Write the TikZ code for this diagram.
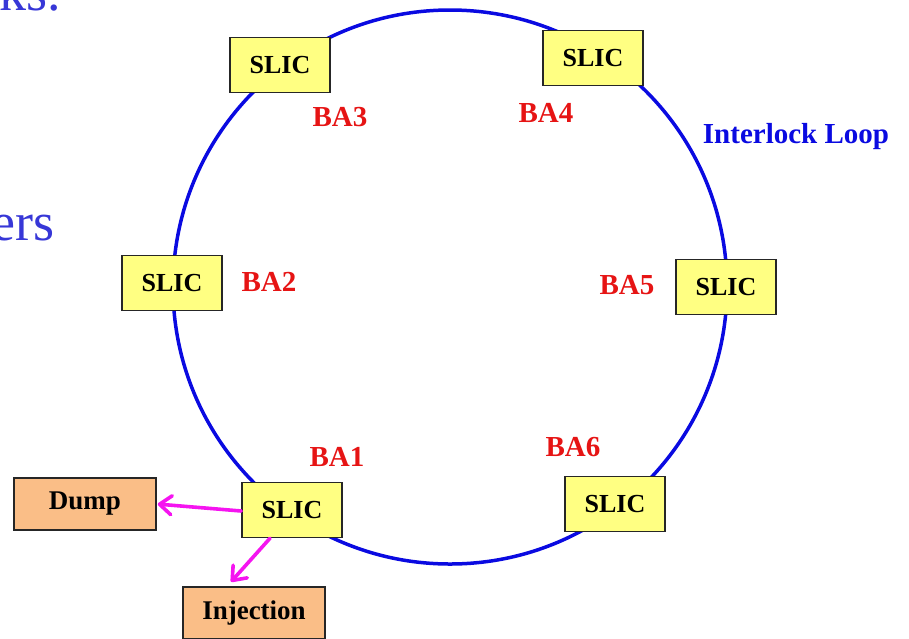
\documentclass[tikz,border=0pt]{standalone}
\usepackage{fontspec}
\setmainfont{Liberation Serif}
\usetikzlibrary{arrows.meta}
\definecolor{loopblue}{RGB}{10,10,225}
\definecolor{textblue}{RGB}{55,55,215}
\definecolor{slicfill}{RGB}{255,255,130}
\definecolor{outfill}{RGB}{250,190,135}
\definecolor{labred}{RGB}{230,20,20}
\definecolor{linkmag}{RGB}{245,20,240}
\tikzset{
  slic/.style={draw=black!85, line width=1.5pt, fill=slicfill, minimum width=100pt,
    minimum height=55pt, font=\fontsize{26}{28}\selectfont\bfseries, inner sep=0pt},
  outbox/.style={draw=black!85, line width=1.5pt, fill=outfill, minimum width=142pt,
    minimum height=52pt, font=\fontsize{27}{29}\selectfont\bfseries, inner sep=0pt},
  balabel/.style={text=labred, font=\fontsize{29}{31}\selectfont\bfseries, inner sep=0pt},
  slidetext/.style={anchor=base east, text=textblue, font=\fontsize{54}{58}\selectfont, inner sep=0pt},
  link/.style={draw=linkmag, line width=3.6pt, line cap=round,
    -{Straight Barb[length=12pt,width=19pt,line width=3.6pt,round]}},
}
\begin{document}
\begin{tikzpicture}[x=1pt,y=-1pt]
\useasboundingbox (0,0) rectangle (909,638);
% fragments of the surrounding slide text
\begin{scope}
\clip (0,0) rectangle (909,638);
\node[slidetext] (tcks) at (61,10) {cks.};
\node[slidetext] (ters) at (55,240) {ers};
\end{scope}
% interlock loop
\draw[loopblue, line width=3.5pt] (450,287) circle (277);
% SLIC boxes
\node[slic] (s3) at (280,65) {SLIC};
\node[slic] (s4) at (593,58) {SLIC};
\node[slic] (s2) at (172,283) {SLIC};
\node[slic] (s5) at (726,287) {SLIC};
\node[slic] (s1) at (292,510) {SLIC};
\node[slic] (s6) at (615,504) {SLIC};
% outputs
\node[outbox] (dump) at (85,504) {Dump};
\node[outbox] (inj) at (254,613) {Injection};
% labels
\node[balabel] (l3) at (340,117) {BA3};
\node[balabel] (l4) at (546,113) {BA4};
\node[balabel] (l2) at (269,282) {BA2};
\node[balabel] (l5) at (627,285) {BA5};
\node[balabel] (l1) at (337,457) {BA1};
\node[balabel] (l6) at (573,447) {BA6};
\node[anchor=base, text=loopblue, font=\fontsize{29}{31}\selectfont\bfseries, inner sep=0pt] (loop) at (796,143) {Interlock Loop};
% links from the BA1 interlock module
\draw[link, shorten >=1pt] ([yshift=-1pt]s1.west) -- (dump.east);
\draw[link, shorten >=6pt] ([xshift=-22pt]s1.south) -- ([xshift=-27pt]inj.north);
\end{tikzpicture}
\end{document}
